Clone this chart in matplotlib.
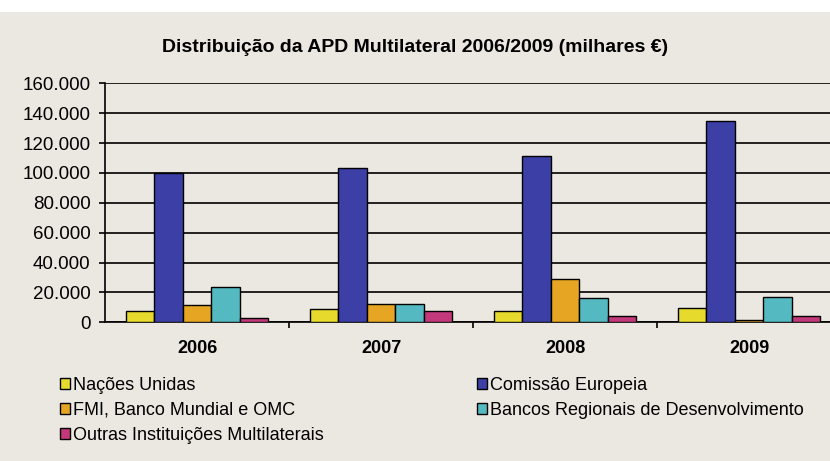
import matplotlib.pyplot as plt
import numpy as np
from matplotlib.ticker import FuncFormatter
from matplotlib.patches import Rectangle, Patch

anos = ["2006", "2007", "2008", "2009"]

# milhares de euros
nacoes_unidas = [7700, 8700, 7800, 9500]
comissao_europeia = [100000, 103000, 111000, 135000]
fmi_bm_omc = [11800, 12500, 29000, 1500]
bancos_regionais = [23800, 12500, 16500, 17000]
outras = [3200, 7300, 4500, 4200]

series = [
    ("Nações Unidas", nacoes_unidas, "#e6da2c"),
    ("Comissão Europeia", comissao_europeia, "#3b3fa6"),
    ("FMI, Banco Mundial e OMC", fmi_bm_omc, "#e6a623"),
    ("Bancos Regionais de Desenvolvimento", bancos_regionais, "#55b9c2"),
    ("Outras Instituições Multilaterais", outras, "#c4387c"),
]

fig = plt.figure(figsize=(8.3, 4.61), dpi=100, facecolor="#ebe7e1")
# white strip along the top edge of the page
fig.patches.append(Rectangle((0, 0.975), 1, 0.025, transform=fig.transFigure,
                             facecolor="white", edgecolor="none", zorder=0))

ax = fig.add_axes([105 / 830, 1 - 322.3 / 461, 736 / 830, 239 / 461])
ax.set_facecolor("none")

x = np.arange(len(anos))
w = 0.155
handles = []
for i, (nome, vals, cor) in enumerate(series):
    ax.bar(x + (i - 2) * w, vals, w, color=cor, edgecolor="black",
           linewidth=1.0, zorder=3)
    handles.append(Patch(facecolor=cor, edgecolor="black", linewidth=1.0, label=nome))

ax.set_xlim(-0.5, 3.5)
ax.set_ylim(0, 160000)
ax.set_yticks(np.arange(0, 160001, 20000))
ax.yaxis.set_major_formatter(FuncFormatter(lambda v, p: f"{int(v):,}".replace(",", ".")))
ax.yaxis.grid(True, color="black", linewidth=1.2, zorder=1)
ax.set_axisbelow(True)

ax.set_xticks(x)
ax.set_xticklabels(anos, fontfamily="Liberation Sans", fontweight="bold", fontsize=13)
ax.set_xticks([0.5, 1.5, 2.5], minor=True)
ax.tick_params(axis="x", which="major", length=0, pad=13)
ax.tick_params(axis="x", which="minor", length=4, width=1.2, direction="out")
ax.tick_params(axis="y", length=4.5, width=1.2, pad=6, labelsize=13.5, direction="out")
for lab in ax.get_yticklabels():
    lab.set_fontfamily("Liberation Sans")

for s in ["top", "right"]:
    ax.spines[s].set_visible(False)
for s in ["left", "bottom"]:
    ax.spines[s].set_linewidth(1.2)

fig.text(415 / 830, 1 - 48 / 461, "Distribuição da APD Multilateral 2006/2009 (milhares €)",
         ha="center", va="center", fontsize=14, fontweight="bold",
         fontfamily="Liberation Sans")

ordem = [0, 2, 4, 1, 3]
leg = fig.legend([handles[k] for k in ordem], [handles[k].get_label() for k in ordem],
                 loc="upper left", bbox_to_anchor=(53 / 830, 1 - 370 / 461), ncol=2,
                 frameon=False, prop={"family": "Liberation Sans", "size": 13},
                 handlelength=0.55, handleheight=0.55, handletextpad=0.15,
                 labelspacing=0.43, columnspacing=8.5, borderaxespad=0)

fig.savefig("out.png", dpi=100, facecolor=fig.get_facecolor())
